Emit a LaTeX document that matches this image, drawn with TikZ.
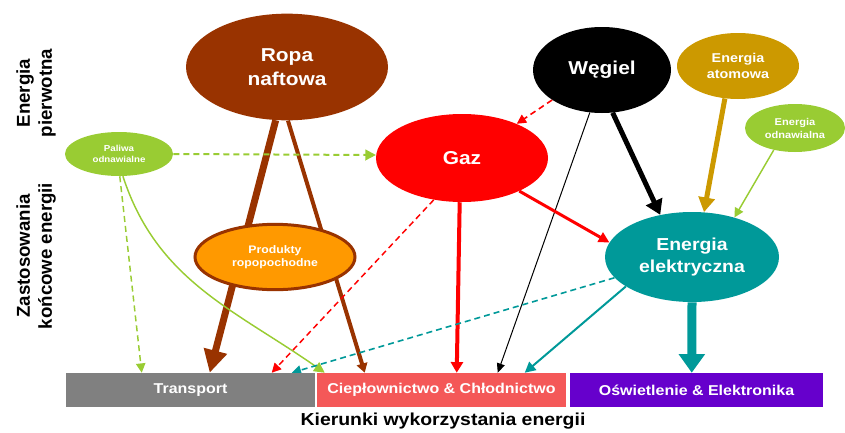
\documentclass[tikz,border=0pt]{standalone}
\usepackage{fontspec}
\setmainfont{Liberation Sans}[FakeStretch=1.12]
\newfontfamily\sidefont{Liberation Sans}
\usetikzlibrary{shapes.geometric,arrows.meta,calc}
\definecolor{ropa}{HTML}{993300}
\definecolor{produkty}{HTML}{FF9900}
\definecolor{gaz}{HTML}{FF0000}
\definecolor{atom}{HTML}{CC9900}
\definecolor{zielony}{HTML}{99CC33}
\definecolor{morski}{HTML}{009999}
\definecolor{szary}{HTML}{808080}
\definecolor{cieplo}{HTML}{F45858}
\definecolor{fiolet}{HTML}{6600CC}
\pgfdeclarelayer{bg}
\pgfsetlayers{bg,main}
\tikzset{
  blob/.style={ellipse, inner sep=0pt, text=white, align=center},
  bar/.style={rectangle, inner sep=0pt, minimum height=25.5pt, text=white,
    font=\bfseries\fontsize{10.7}{12}\selectfont},
  side/.style={rotate=90, align=center, font=\sidefont\bfseries\fontsize{14}{16.5}\selectfont},
  pointer/.style 2 args={-{Triangle[length=#1,width=#2]}},
  kreski/.style={dash pattern=on 4.5pt off 3pt},
}
\begin{document}
\begin{tikzpicture}[x=0.75pt,y=-0.75pt]
      \useasboundingbox (0,0) rectangle (845,432);
      \draw
        (287,67) node[blob, fill=ropa, minimum width=151.5pt, minimum height=80pt,
          font=\bfseries\fontsize{14}{18}\selectfont] (ropa){Ropa\\naftowa}
        (602,70) node[blob, fill=black, minimum width=103.5pt, minimum height=64.5pt,
          font=\bfseries\fontsize{14}{18}\selectfont] (wegiel){Węgiel}
        (738,66) node[blob, fill=atom, minimum width=91.5pt, minimum height=49.5pt,
          font=\bfseries\fontsize{9.6}{12}\selectfont] (atom){Energia\\atomowa}
        (795,128) node[blob, fill=zielony, minimum width=75pt, minimum height=36pt,
          font=\bfseries\fontsize{7.4}{9.75}\selectfont] (odnawialna){Energia\\odnawialna}
        (462,158) node[blob, fill=gaz, minimum width=129pt, minimum height=66pt,
          font=\bfseries\fontsize{14}{18}\selectfont] (gaz){Gaz}
        (119,154) node[blob, fill=zielony, minimum width=81pt, minimum height=33pt,
          font=\bfseries\fontsize{6.5}{8.25}\selectfont] (paliwa){Paliwa\\odnawialne}
        (275,257) node[blob, fill=produkty, draw=ropa, line width=2.25pt,
          minimum width=120pt, minimum height=49pt,
          font=\bfseries\fontsize{8.2}{10}\selectfont] (produkty){Produkty\\ropopochodne}
        (692,257) node[blob, fill=morski, minimum width=130.5pt, minimum height=67.5pt,
          font=\bfseries\fontsize{13}{16.5}\selectfont] (elektryczna){Energia\\elektryczna}
        (190.5,390) node[bar, fill=szary, minimum width=186.75pt] (transport){Transport}
        (441.5,390) node[bar, fill=cieplo, minimum width=186.75pt] (cieplo){Ciepłownictwo \& Chłodnictwo}
        (696.5,390) node[bar, fill=fiolet, minimum width=189.75pt] (oswietlenie){Oświetlenie \& Elektronika}
        (443,421) node[font=\bfseries\fontsize{13}{15}\selectfont] (kierunki){Kierunki wykorzystania energii}
        (36,93) node[side] (pierwotna){Energia\\pierwotna}
        (36,256) node[side] (koncowe){Zastosowania\\końcowe energii};
      \begin{pgfonlayer}{bg}
        \draw[ropa, line width=5.2pt, pointer={17pt}{17pt}] (ropa.-102) to ($(transport.north west)+(144,0)$);
        \draw[ropa, line width=3pt, pointer={7pt}{8pt}] (ropa.-89) to ($(cieplo.north west)+(48,0)$);
        \draw[zielony, line width=1.5pt, kreski, pointer={8pt}{8pt}] (paliwa.east) to (gaz.178);
        \draw[zielony, line width=1.1pt, kreski, pointer={7pt}{7pt}] (paliwa.-88) to ($(transport.north west)+(76,0)$);
        \draw[zielony, line width=1.1pt, pointer={8pt}{8pt}] (paliwa.-80) to[out=-72,in=145] ($(cieplo.north west)+(8,0)$);
        \draw[gaz, line width=1.2pt, kreski, pointer={7pt}{7pt}] (wegiel.-149) to (gaz.32);
        \draw[black, line width=3.75pt, pointer={11pt}{13pt}] (wegiel.-76) to (elektryczna.127);
        \draw[black, line width=0.75pt, pointer={7pt}{6pt}] (wegiel.-106) to ($(cieplo.north west)+(181,0)$);
        \draw[atom, line width=3.75pt, pointer={11pt}{12pt}] (atom.-112) to (elektryczna.75);
        \draw[zielony, line width=1.1pt, pointer={7pt}{7pt}] (odnawialna.-134) to (elektryczna.43);
        \draw[gaz, line width=3pt, pointer={8pt}{9pt}] (gaz.-93) to ($(cieplo.north west)+(140,0)$);
        \draw[gaz, line width=2.25pt, pointer={8pt}{8pt}] (gaz.-30) to (elektryczna.170);
        \draw[gaz, line width=1.1pt, kreski, pointer={7pt}{7pt}] (gaz.-124) to ($(transport.north west)+(206,0)$);
        \draw[morski, line width=1.2pt, kreski, pointer={7pt}{7pt}] (elektryczna.-165) to ($(transport.north west)+(226,0)$);
        \draw[morski, line width=1.5pt, pointer={8pt}{8pt}] (elektryczna.-156) to ($(cieplo.north west)+(208,0)$);
        \draw[morski, line width=6.75pt, pointer={14pt}{19pt}] (elektryczna.south) to ($(oswietlenie.north west)+(122,0)$);
      \end{pgfonlayer}
    \end{tikzpicture}
\end{document}
